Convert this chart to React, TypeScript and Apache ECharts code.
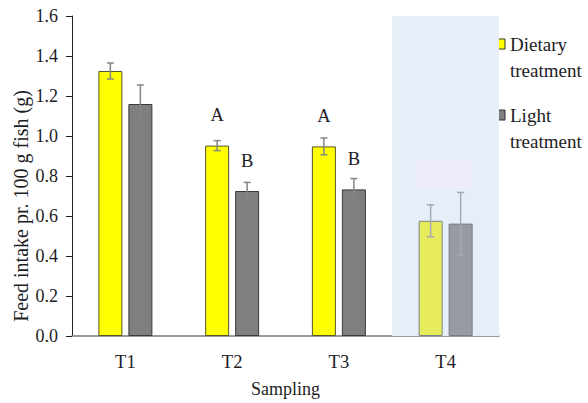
import React, { useEffect, useRef } from "react";
import * as echarts from "echarts";

const categories = ["T1", "T2", "T3", "T4"];
const dietary = [1.325, 0.952, 0.948, 0.576];
const dietaryErr = [0.04, 0.025, 0.042, 0.08];
const light = [1.16, 0.725, 0.733, 0.562];
const lightErr = [0.095, 0.043, 0.054, 0.156];
const dietaryLetters = ["", "A", "A", ""];
const lightLetters = ["", "B", "B", ""];
const yTicks = [0, 0.2, 0.4, 0.6, 0.8, 1.0, 1.2, 1.4, 1.6];

const FONT = "Liberation Serif";
const TXT = "#1c1c24";

export default function App() {
  const ref = useRef<HTMLDivElement>(null);
  useEffect(() => {
    const chart = echarts.init(ref.current!, null, { renderer: "svg" });
    const OFF = 15;
    const errSeries = (name: string, vals: number[], errs: number[], off: number) => ({
      type: "custom",
      name,
      z: 5,
      data: vals.map((v, i) => [i, v, errs[i]]),
      encode: { x: 0, y: 1 },
      renderItem: (params: any, api: any) => {
        const i = api.value(0);
        const v = api.value(1);
        const e = api.value(2);
        const top = api.coord([i, v + e]);
        const bot = api.coord([i, v - e]);
        const x = top[0] + off;
        const color = i === 3 ? "#a3aab3" : "#858585";
        const style = { stroke: color, lineWidth: 1.5 };
        return {
          type: "group",
          children: [
            { type: "line", shape: { x1: x, y1: top[1], x2: x, y2: bot[1] }, style },
            { type: "line", shape: { x1: x - 3.5, y1: top[1], x2: x + 3.5, y2: top[1] }, style },
            { type: "line", shape: { x1: x - 3.5, y1: bot[1], x2: x + 3.5, y2: bot[1] }, style },
          ],
        };
      },
    });
    const option: any = {
      animation: false,
      grid: { left: 72, right: 89, top: 16, bottom: 64 },
      xAxis: {
        type: "category",
        data: categories,
        axisLine: { lineStyle: { color: "#7a7a7a", width: 1.5 } },
        axisTick: { show: false },
        axisLabel: { fontFamily: FONT, fontSize: 18.5, color: TXT, margin: 16 },
        name: "Sampling",
        nameLocation: "middle",
        nameGap: 44,
        nameTextStyle: { fontFamily: FONT, fontSize: 18, color: TXT },
      },
      yAxis: {
        type: "value",
        min: 0,
        max: yTicks[yTicks.length - 1],
        interval: 0.2,
        axisLine: { show: true, lineStyle: { color: "#222", width: 1 } },
        axisTick: { show: true, length: 6, lineStyle: { color: "#222" } },
        splitLine: { show: false },
        axisLabel: {
          fontFamily: FONT,
          fontSize: 18,
          color: TXT,
          margin: 14,
          formatter: (v: number) => v.toFixed(1),
        },
      },
      series: [
        {
          type: "bar",
          name: "Dietary treatment",
          barWidth: 24,
          barGap: "25%",
          data: dietary.map((v, i) => ({
            value: v,
            itemStyle:
              i === 3
                ? { color: "#e6ec5c", borderColor: "#7d8384", borderWidth: 1 }
                : { color: "#ffff00", borderColor: "#55552a", borderWidth: 1 },
          })),
          label: {
            show: true,
            position: "top",
            distance: 21,
            fontFamily: FONT,
            fontSize: 18.5,
            color: TXT,
            formatter: (p: any) => dietaryLetters[p.dataIndex],
          },
          markArea: {
            silent: true,
            itemStyle: { color: "#e6eef8" },
            data: [[{ xAxis: "T4", yAxis: 1.6 }, { xAxis: "T4", yAxis: 0 }]],
          },
        },
        {
          type: "bar",
          name: "Light treatment",
          barWidth: 24,
          barGap: "25%",
          data: light.map((v, i) => ({
            value: v,
            itemStyle:
              i === 3
                ? { color: "#979ca4", borderColor: "#767c84", borderWidth: 1 }
                : { color: "#7f7f7f", borderColor: "#3a3a3a", borderWidth: 1 },
          })),
          label: {
            show: true,
            position: "top",
            distance: 21,
            fontFamily: FONT,
            fontSize: 18.5,
            color: TXT,
            formatter: (p: any) => lightLetters[p.dataIndex],
          },
        },
        errSeries("dietErr", dietary, dietaryErr, -OFF),
        errSeries("lightErr", light, lightErr, OFF),
      ],
    };
    chart.setOption(option);

    const p1 = chart.convertToPixel({ gridIndex: 0 }, ["T4", 0.88]) as number[];
    const p2 = chart.convertToPixel({ gridIndex: 0 }, ["T4", 0.735]) as number[];
    const pSW = chart.convertToPixel({ gridIndex: 0 }, ["T4", 1.28]) as number[];
    const pMid = chart.convertToPixel({ gridIndex: 0 }, [0, 0.65]) as number[];

    chart.setOption({
      graphic: [
        {
          type: "rect",
          shape: { x: p1[0] - 30, y: p1[1], width: 57, height: p2[1] - p1[1] },
          style: { fill: "#ececfb" },
          z: 1,
        },
        {
          type: "text",
          x: pSW[0] - 7,
          y: pSW[1],
          style: { text: "SW", font: `18.5px "${FONT}"`, fill: TXT, align: "center", verticalAlign: "middle" },
        },
        {
          type: "text",
          x: 21,
          y: pMid[1],
          rotation: Math.PI / 2,
          style: {
            text: "Feed intake pr. 100 g fish (g)",
            font: `20px "${FONT}"`,
            fill: TXT,
            align: "center",
            verticalAlign: "middle",
          },
        },
        { type: "rect", shape: { x: 496, y: 39, width: 9, height: 10 }, style: { fill: "#ffff00", stroke: "#333", lineWidth: 1 } },
        { type: "text", x: 510, y: 44, style: { text: "Dietary", font: `19px "${FONT}"`, fill: TXT, verticalAlign: "middle" } },
        { type: "text", x: 510, y: 70, style: { text: "treatment", font: `19px "${FONT}"`, fill: TXT, verticalAlign: "middle" } },
        { type: "rect", shape: { x: 496, y: 110, width: 9, height: 10 }, style: { fill: "#7f7f7f", stroke: "#333", lineWidth: 1 } },
        { type: "text", x: 510, y: 115, style: { text: "Light", font: `19px "${FONT}"`, fill: TXT, verticalAlign: "middle" } },
        { type: "text", x: 510, y: 141, style: { text: "treatment", font: `19px "${FONT}"`, fill: TXT, verticalAlign: "middle" } },
      ],
    });
    return () => chart.dispose();
  }, []);
  return <div ref={ref} style={{ width: 588, height: 403, position: "absolute", left: 0, top: 0 }} />;
}
